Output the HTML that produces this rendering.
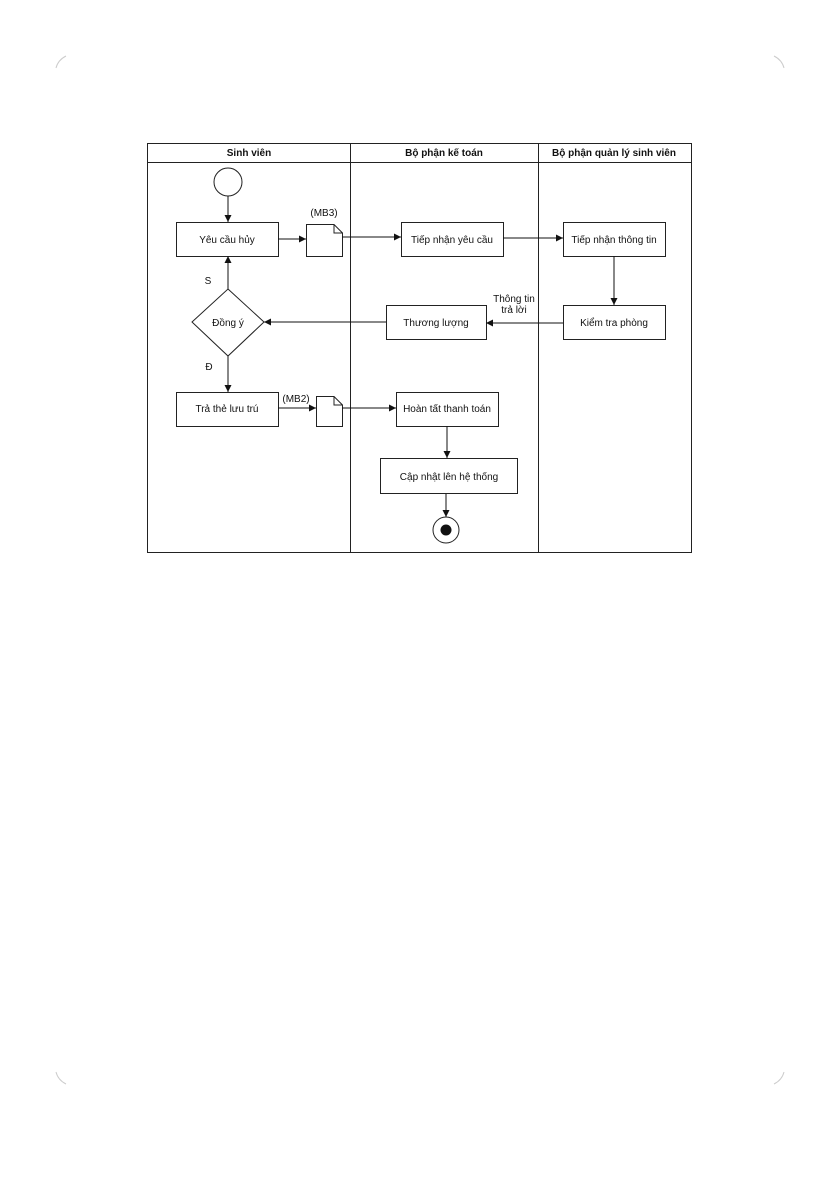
<!DOCTYPE html>
<html><head><meta charset="utf-8"><style>
html,body{margin:0;padding:0;background:#fff}
svg text{font-family:"Liberation Sans",sans-serif;font-size:10px;fill:#111}
</style></head><body>
<svg width="840" height="1192" viewBox="0 0 840 1192" xmlns="http://www.w3.org/2000/svg">
<defs><marker id="a" markerWidth="8" markerHeight="8" refX="7" refY="4" orient="auto" markerUnits="userSpaceOnUse"><path d="M0,0.5 L7,4 L0,7.5 Z" fill="#111"/></marker></defs>
<g fill="none" stroke="#ccc" stroke-width="1">
<path d="M56,68 Q58,60 66,56"/><path d="M774,56 Q782,60 784,68"/>
<path d="M56,1072 Q58,1080 66,1084"/><path d="M774,1084 Q782,1080 784,1072"/>
</g>
<g fill="none" stroke="#222" stroke-width="1">
<rect x="147.5" y="143.5" width="544" height="409"/>
<line x1="147" y1="162.5" x2="691" y2="162.5"/>
<line x1="350.5" y1="143" x2="350.5" y2="552"/>
<line x1="538.5" y1="143" x2="538.5" y2="552"/>
<circle cx="228" cy="182" r="14"/>
<rect x="176.5" y="222.5" width="102" height="34"/>
<path d="M306.5,224.5 H334 L342.5,233 V256.5 H306.5 Z M334,224.5 V233 H342.5"/>
<rect x="401.5" y="222.5" width="102" height="34"/>
<rect x="563.5" y="222.5" width="102" height="34"/>
<rect x="563.5" y="305.5" width="102" height="34"/>
<rect x="386.5" y="305.5" width="100" height="34"/>
<path d="M228,289 L264,322 L228,356 L192,322 Z"/>
<rect x="176.5" y="392.5" width="102" height="34"/>
<path d="M316.5,396.5 H334 L342.5,405 V426.5 H316.5 Z M334,396.5 V405 H342.5"/>
<rect x="396.5" y="392.5" width="102" height="34"/>
<rect x="380.5" y="458.5" width="137" height="35"/>
<circle cx="446" cy="530" r="13"/>
</g>
<circle cx="446" cy="530" r="5.5" fill="#111"/>
<g stroke="#111" stroke-width="1" fill="none" marker-end="url(#a)">
<line x1="228" y1="196" x2="228" y2="222"/>
<line x1="278" y1="239" x2="306" y2="239"/>
<line x1="342" y1="237" x2="401" y2="237"/>
<line x1="503" y1="238" x2="563" y2="238"/>
<line x1="614" y1="256" x2="614" y2="305"/>
<line x1="563" y1="323" x2="486" y2="323"/>
<line x1="386" y1="322" x2="264" y2="322"/>
<line x1="228" y1="289" x2="228" y2="256"/>
<line x1="228" y1="356" x2="228" y2="392"/>
<line x1="278" y1="408" x2="316" y2="408"/>
<line x1="342" y1="408" x2="396" y2="408"/>
<line x1="447" y1="426" x2="447" y2="458"/>
<line x1="446" y1="494" x2="446" y2="517"/>
</g>
<g text-anchor="middle">
<text x="249" y="156" font-weight="bold">Sinh viên</text>
<text x="444" y="156" font-weight="bold">Bộ phận kế toán</text>
<text x="614" y="156" font-weight="bold">Bộ phận quản lý sinh viên</text>
<text x="227" y="243">Yêu cầu hủy</text>
<text x="324" y="216">(MB3)</text>
<text x="452" y="243">Tiếp nhận yêu cầu</text>
<text x="614" y="243">Tiếp nhận thông tin</text>
<text x="614" y="326">Kiểm tra phòng</text>
<text x="436" y="326">Thương lượng</text>
<text x="514" y="302">Thông tin</text>
<text x="514" y="313">trả lời</text>
<text x="228" y="326">Đồng ý</text>
<text x="208" y="284">S</text>
<text x="209" y="370">Đ</text>
<text x="227" y="412">Trả thẻ lưu trú</text>
<text x="296" y="402">(MB2)</text>
<text x="447" y="412">Hoàn tất thanh toán</text>
<text x="449" y="480">Cập nhật lên hệ thống</text>
</g>
</svg>
</body></html>
